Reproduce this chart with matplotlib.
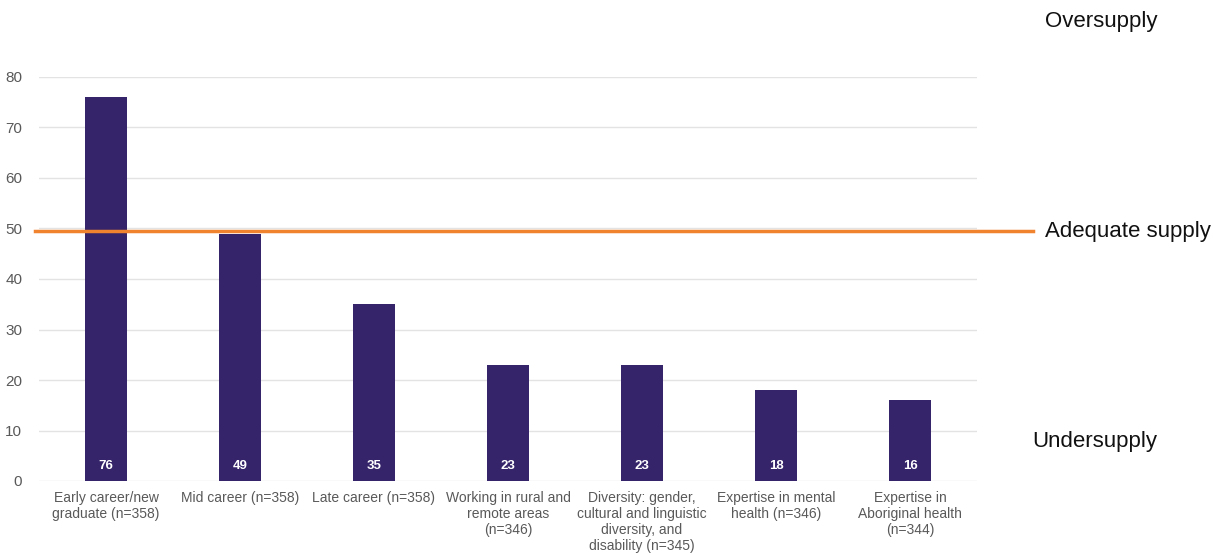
import matplotlib
matplotlib.use("Agg")
import matplotlib.pyplot as plt

categories = [
    "Early career/new\ngraduate (n=358)",
    "Mid career (n=358)",
    "Late career (n=358)",
    "Working in rural and\nremote areas\n(n=346)",
    "Diversity: gender,\ncultural and linguistic\ndiversity, and\ndisability (n=345)",
    "Expertise in mental\nhealth (n=346)",
    "Expertise in\nAboriginal health\n(n=344)",
]
values = [76, 49, 35, 23, 23, 18, 16]
adequate_level = 49.5
yticks = [0, 10, 20, 30, 40, 50, 60, 70, 80]

plt.rcParams['font.family'] = ['Liberation Sans', 'DejaVu Sans']

fig = plt.figure(figsize=(12.21, 5.55), dpi=100)
ax = fig.add_axes([39/1221, 74/555, 938/1221, 404/555])

bar_color = "#35246a"
x = list(range(len(categories)))
ax.bar(x, values, width=0.31, color=bar_color, zorder=3)
for xi, v in zip(x, values):
    ax.text(xi, 3, str(v), ha="center", va="center", color="white",
            fontsize=9.5, fontweight="bold", zorder=4)

ax.set_xlim(-0.5, len(categories) - 0.5)
ax.set_ylim(0, 80)
ax.set_yticks(yticks)
ax.set_xticks(x)
ax.set_xticklabels(categories, fontsize=10, color="#595959", linespacing=1.2)
ax.tick_params(axis="y", labelsize=11, colors="#595959", length=0, pad=12)
ax.tick_params(axis="x", length=0, pad=7)
ax.grid(axis="y", color="#e3e3e3", linewidth=1, zorder=0)
for s in ax.spines.values():
    s.set_visible(False)

# Adequate supply line extends beyond the axes
ax.axhline(adequate_level, xmin=-4 / 938, xmax=(1033 - 39) / 938, color="#f0832e",
           linewidth=2.5, clip_on=False, zorder=5)

fig.text(1045/1221, 1 - 22/555, "Oversupply", fontsize=16, ha="left", va="center", color="#111111")
fig.text(1045/1221, 1 - 232/555, "Adequate supply", fontsize=16, ha="left", va="center", color="#111111")
fig.text(1032/1221, 1 - 442/555, "Undersupply", fontsize=16, ha="left", va="center", color="#111111")

fig.savefig("out.png", dpi=100)
